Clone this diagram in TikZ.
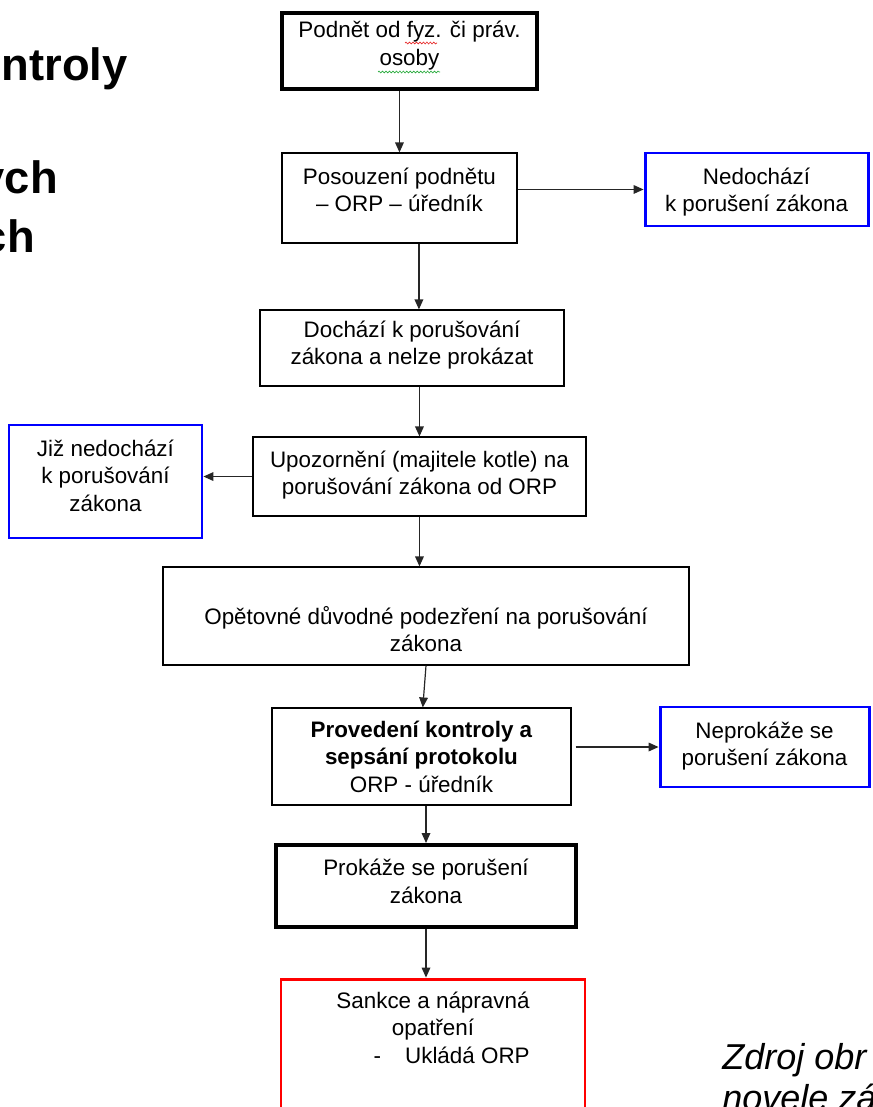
\documentclass[tikz,border=0pt]{standalone}
\usepackage{fontspec}
\setmainfont{Liberation Sans}
\usetikzlibrary{positioning,arrows.meta,decorations.pathmorphing}

\definecolor{boxblue}{RGB}{0,0,255}
\definecolor{boxred}{RGB}{255,0,0}
\definecolor{spellred}{RGB}{230,40,40}
\definecolor{spellgreen}{RGB}{40,170,60}

\begin{document}
\begin{tikzpicture}[
    x=1pt, y=-1pt, % everything in pt, y going down
    >={Triangle[length=7.5pt,width=6.5pt]},
    box/.style={rectangle, draw=black, line width=0.9pt, inner sep=0pt},
    thickbox/.style={rectangle, draw=black, line width=3pt, inner sep=0pt},
    bluebox/.style={rectangle, draw=boxblue, line width=2.2pt, inner sep=0pt},
    redbox/.style={rectangle, draw=boxred, line width=2.2pt, inner sep=0pt},
    boxtext/.style={inner sep=0pt, align=center,
      font=\fontsize{16.8}{20.6}\selectfont, execute at begin node=\strut},
    heading/.style={inner sep=0pt, anchor=base east,
      font=\fontsize{34}{44}\selectfont\bfseries},
    flow/.style={->, line width=0.9pt, draw=black!85},
    spell/.style={decorate, decoration={snake, segment length=2.6pt, amplitude=0.7pt},
      line width=0.5pt},
  ]
    \useasboundingbox (0,0) rectangle (654,830.25);
    \clip (0,0) rectangle (654,830.25);

    % heading cut off at the left edge
    \node[heading] (hd1) at (96,60) {ntroly};
    \node[heading] (hd2) at (43.5,144.75) {ych};
    \node[heading] (hd3) at (26.25,189) {ch};

    % boxes of the main flow
    \node[thickbox, minimum width=191.25pt, minimum height=57pt] (podnet) at (307.1,38.25) {};
    \node[box, minimum width=176.25pt, minimum height=67.5pt] (posouzeni) at (299.6,148.5) {};
    \node[box, minimum width=228pt, minimum height=57pt] (dochazi) at (309,261) {};
    \node[box, minimum width=249.75pt, minimum height=59.25pt] (upozorneni) at (314.6,357.4) {};
    \node[box, minimum width=394.5pt, minimum height=73.5pt] (opetovne) at (319.5,462) {};
    \node[box, minimum width=224.25pt, minimum height=72.75pt] (provedeni) at (316.1,567.4) {};
    \node[thickbox, minimum width=225pt, minimum height=61.5pt] (prokaze) at (319.5,664.5) {};
    \node[redbox, minimum width=228pt, minimum height=113.25pt] (sankce) at (324.75,790.9) {};

    % side boxes
    \node[bluebox, minimum width=167.25pt, minimum height=54.75pt] (nedochazi) at (567.4,142.1) {};
    \node[bluebox, minimum width=144.75pt, minimum height=84.75pt] (jiz) at (79.1,361.1) {};
    \node[bluebox, minimum width=156.75pt, minimum height=60pt] (neprokaze) at (573.4,560.25) {};

    % texts, hung from the top of each box
    \node[boxtext, below=7.6pt of podnet.north] (podnet-t) {Podnět od fyz. či práv.\\osoby};
    \node[boxtext, below=11.3pt of posouzeni.north] (posouzeni-t) {Posouzení podnětu\\– ORP – úředník};
    \node[boxtext, below=8.3pt of dochazi.north] (dochazi-t) {Dochází k porušování\\zákona a nelze prokázat};
    \node[boxtext, below=10.6pt of upozorneni.north] (upozorneni-t) {Upozornění (majitele kotle) na\\porušování zákona od ORP};
    \node[boxtext, below=29.6pt of opetovne.north] (opetovne-t) {Opětovné důvodné podezření na porušování\\zákona};
    \node[boxtext, below=9.8pt of provedeni.north] (provedeni-t) {\textbf{Provedení kontroly a}\\\textbf{sepsání protokolu}\\ORP - úředník};
    \node[boxtext, below=12.1pt of prokaze.north] (prokaze-t) {Prokáže se porušení\\zákona};
    \node[boxtext, below=10.6pt of sankce.north] (sankce-t) {Sankce a nápravná\\opatření\\\hspace*{28pt}-\hspace{18pt}Ukládá ORP};
    \node[boxtext, below=12.1pt of nedochazi.north] (nedochazi-t) {Nedochází\\k porušení zákona};
    \node[boxtext, below=12.1pt of jiz.north] (jiz-t) {Již nedochází\\k porušování\\zákona};
    \node[boxtext, below=12.1pt of neprokaze.north] (neprokaze-t) {Neprokáže se\\porušení zákona};

    % spell-check marks in the first box
    \draw[spell, spellred] (303.75,32.25) -- (327.75,32.25);
    \draw[spell, spellgreen] (283.5,54) -- (330,54);

    % main flow
    \draw[flow] (podnet.south -| posouzeni.north) -- (posouzeni.north);
    \draw[flow] ([xshift=14.6pt]posouzeni.south) -- ([xshift=14.6pt]posouzeni.south |- dochazi.north);
    \draw[flow] (upozorneni.north |- dochazi.south) -- (upozorneni.north);
    \draw[flow] (upozorneni.south) -- (upozorneni.south |- opetovne.north);
    \draw[flow] (opetovne.south) -- ([xshift=1pt]provedeni.north);
    \draw[flow] (prokaze.north |- provedeni.south) -- (prokaze.north);
    \draw[flow] (prokaze.south) -- (prokaze.south |- sankce.north);

    % side branches
    \draw[flow] (nedochazi.west -| posouzeni.east) -- (nedochazi.west);
    \draw[flow] (upozorneni.west) -- (upozorneni.west -| jiz.east);
    \draw[flow, shorten <=3pt] (neprokaze.west -| provedeni.east) -- (neprokaze.west);

    % source note, cut off at the corner
    \node[inner sep=0pt, anchor=north west, align=left,
      font=\fontsize{27}{31}\selectfont\itshape, execute at begin node=\strut]
      (zdroj) at (541.5,782.3) {Zdroj obr\\novele zá};
\end{tikzpicture}
\end{document}
